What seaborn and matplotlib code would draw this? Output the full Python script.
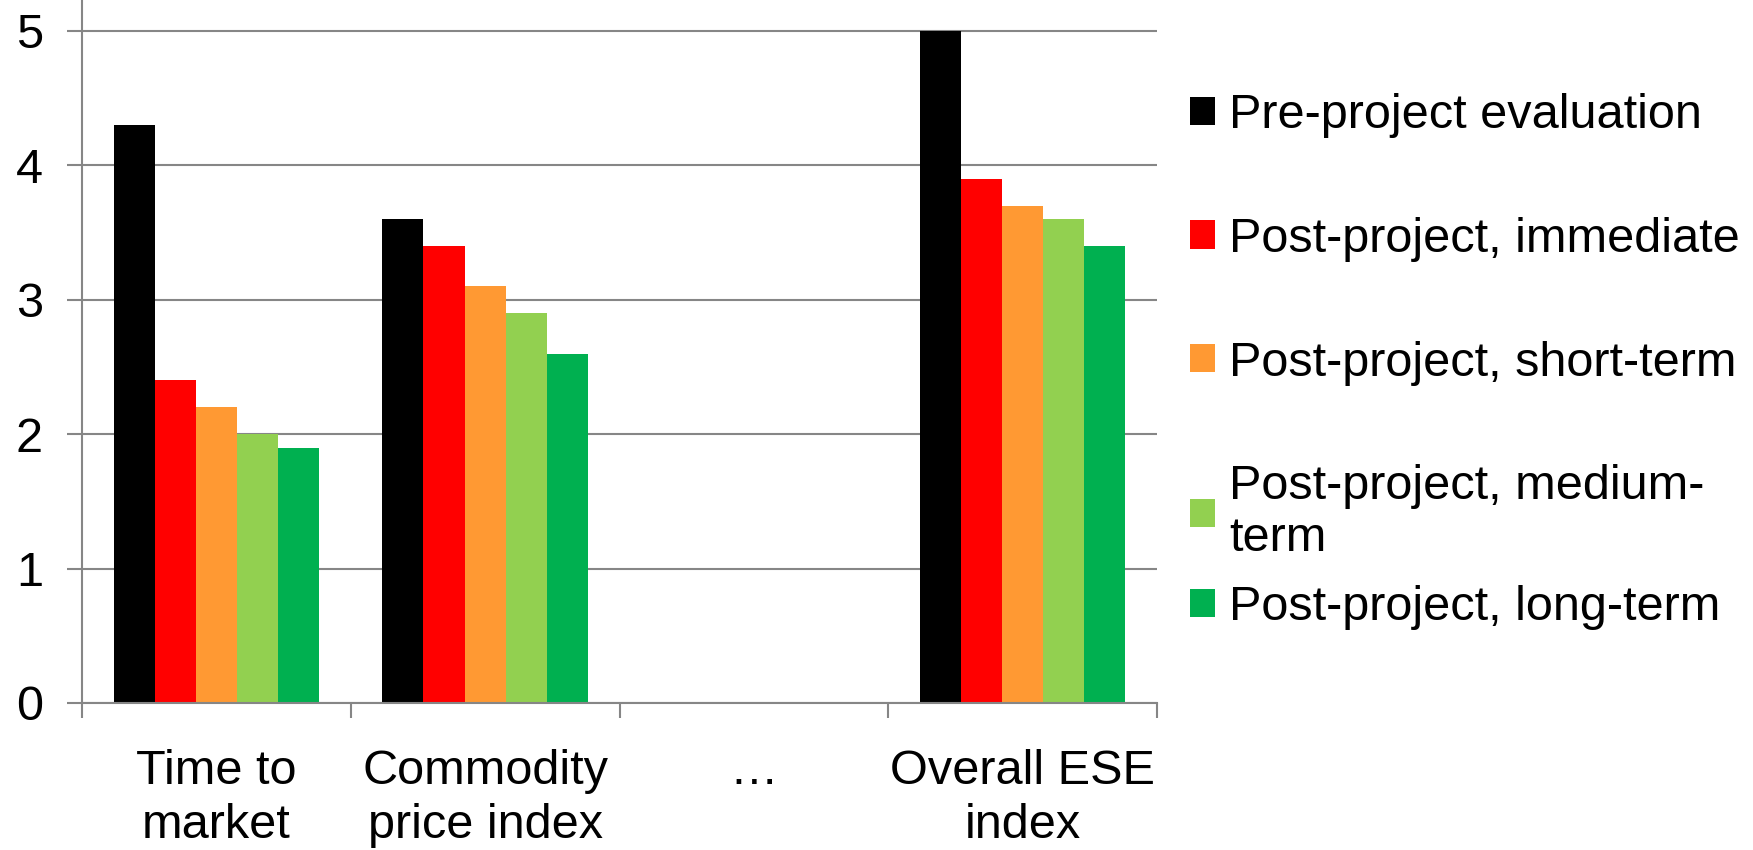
import matplotlib
matplotlib.use("Agg")
import matplotlib.pyplot as plt
import seaborn as sns
import pandas as pd
from matplotlib.ticker import FixedLocator, NullFormatter

categories = ["Time to\nmarket", "Commodity\nprice index", "…", "Overall ESE\nindex"]
series = ["Pre-project evaluation", "Post-project, immediate", "Post-project, short-term",
          "Post-project, medium-\nterm", "Post-project, long-term"]
colors = ["#000000", "#FF0000", "#FF9933", "#92D050", "#00B050"]

time_to_market = [4.3, 2.4, 2.2, 2.0, 1.9]
commodity_price_index = [3.6, 3.4, 3.1, 2.9, 2.6]
overall_ese_index = [5.0, 3.9, 3.7, 3.6, 3.4]

rows = []
for cat, vals in [(categories[0], time_to_market), (categories[1], commodity_price_index),
                  (categories[3], overall_ese_index)]:
    for s, v in zip(series, vals):
        rows.append({"category": cat, "series": s, "value": v})
df = pd.DataFrame(rows)

sns.set_theme(style="white")
plt.rcParams['font.family'] = ['Liberation Sans', 'DejaVu Sans']
plt.rcParams['text.color'] = 'black'
plt.rcParams['xtick.labelcolor'] = 'black'
plt.rcParams['ytick.labelcolor'] = 'black'

FS = 35
W, H = 1753, 850
y0_px, y5_px = 703, 31
unit = (y0_px - y5_px) / 5
fig = plt.figure(figsize=(W / 100, H / 100), dpi=100)
ax = fig.add_axes([82 / W, 1 - y0_px / H, (1157 - 82) / W, y0_px / H])

sns.barplot(data=df, x="category", y="value", hue="series", order=categories,
            hue_order=series, palette=colors, width=0.765, saturation=1,
            edgecolor="none", linewidth=0, ax=ax, legend=True)

grey = "#868686"
ax.set_ylim(0, 5 + y5_px / unit)
ax.set_xlim(-0.5, 3.5)
ax.set_yticks([0, 1, 2, 3, 4, 5])
ax.set_yticklabels(["0", "1", "2", "3", "4", "5"])
ax.yaxis.grid(True, color=grey, linewidth=1.5)
ax.xaxis.grid(False)
ax.set_axisbelow(True)

ax.xaxis.set_major_locator(FixedLocator([-0.5, 0.5, 1.5, 2.5, 3.5]))
ax.xaxis.set_major_formatter(NullFormatter())
ax.xaxis.set_minor_locator(FixedLocator([0, 1, 2, 3]))
ax.set_xticklabels(categories, minor=True)
ax.tick_params(axis="x", which="major", length=11, width=1.5, color=grey, direction="out", bottom=True)
ax.tick_params(axis="x", which="minor", length=0, pad=33, labelsize=FS, labelcolor="black")
ax.tick_params(axis="y", which="major", length=11, width=1.5, color=grey, direction="out", left=True,
               pad=17, labelsize=FS, labelcolor="black")
for lbl in ax.get_xticklabels(minor=True):
    lbl.set_linespacing(1.27)

ax.set_xlabel("")
ax.set_ylabel("")
for side in ["top", "right"]:
    ax.spines[side].set_visible(False)
for side in ["left", "bottom"]:
    ax.spines[side].set_color(grey)
    ax.spines[side].set_linewidth(1.5)

handles, labels = ax.get_legend_handles_labels()
if ax.get_legend():
    ax.get_legend().remove()
common = dict(bbox_transform=fig.transFigure, frameon=False, fontsize=FS, loc="upper left",
              handlelength=0.52, handleheight=0.52, handletextpad=0.28, labelspacing=1.62,
              borderaxespad=0, borderpad=0, labelcolor="black")
leg1 = ax.legend(handles[:4], labels[:4], bbox_to_anchor=(1190 / W, 1 - 93 / H), **common)
ax.add_artist(leg1)
leg2 = ax.legend(handles[4:], labels[4:], bbox_to_anchor=(1190 / W, 1 - 585 / H), **common)

fig.savefig("out.png", dpi=100)
